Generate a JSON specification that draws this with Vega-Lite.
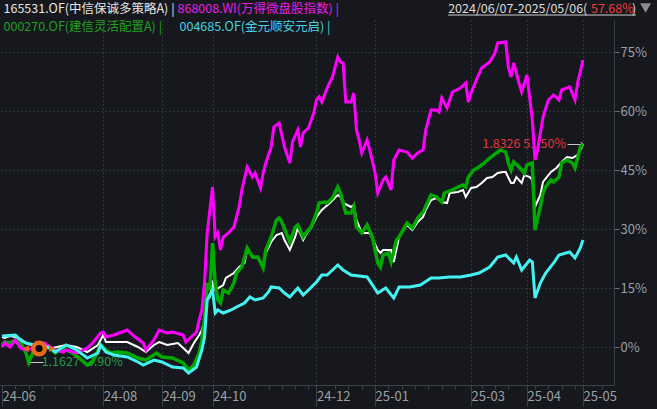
{
  "$schema": "https://vega.github.io/schema/vega-lite/v6.json",
  "width": 614,
  "height": 365,
  "autosize": "none",
  "padding": {"left": 0, "top": 20, "right": 43, "bottom": 24},
  "background": "#16181d",
  "config": {
    "view": {"stroke": null},
    "font": "Noto Sans CJK SC",
    "axis": {"labelFont": "Noto Sans CJK SC"},
    "legend": {"labelFont": "Noto Sans CJK SC"}
  },
  "datasets": {
    "series": [
      {"s":"165531","d":0,"v":2.54},{"s":"165531","d":1,"v":2.29},{"s":"165531","d":3,"v":2.80},{"s":"165531","d":5,"v":2.54},{"s":"165531","d":7,"v":2.03},{"s":"165531","d":9,"v":1.02},{"s":"165531","d":12,"v":0.25},{"s":"165531","d":16,"v":0},{"s":"165531","d":19,"v":-0.25},{"s":"165531","d":24,"v":0.51},{"s":"165531","d":28,"v":0},{"s":"165531","d":32,"v":-1.27},{"s":"165531","d":36,"v":0.51},{"s":"165531","d":38,"v":3.05},{"s":"165531","d":39,"v":1.27},{"s":"165531","d":42,"v":1.27},{"s":"165531","d":47,"v":1.27},{"s":"165531","d":51,"v":0},{"s":"165531","d":54,"v":-1.27},{"s":"165531","d":57,"v":0.51},{"s":"165531","d":59,"v":1.27},{"s":"165531","d":62,"v":0.51},{"s":"165531","d":66,"v":1.02},{"s":"165531","d":68,"v":-0.25},{"s":"165531","d":70,"v":-1.53},{"s":"165531","d":72,"v":1.02},{"s":"165531","d":74,"v":3.05},{"s":"165531","d":75,"v":4.32},{"s":"165531","d":76,"v":6.86},{"s":"165531","d":77,"v":11.95},{"s":"165531","d":78,"v":12.71},{"s":"165531","d":79,"v":16.27},{"s":"165531","d":80,"v":14.49},{"s":"165531","d":83,"v":15.76},{"s":"165531","d":84,"v":17.54},{"s":"165531","d":87,"v":18.82},{"s":"165531","d":89,"v":20.34},{"s":"165531","d":91,"v":21.36},{"s":"165531","d":92,"v":24.66},{"s":"165531","d":94,"v":22.88},{"s":"165531","d":96,"v":22.63},{"s":"165531","d":98,"v":20.85},{"s":"165531","d":99,"v":23.90},{"s":"165531","d":101,"v":26.70},{"s":"165531","d":103,"v":28.48},{"s":"165531","d":105,"v":28.99},{"s":"165531","d":106,"v":27.21},{"s":"165531","d":108,"v":24.66},{"s":"165531","d":110,"v":27.97},{"s":"165531","d":111,"v":30.26},{"s":"165531","d":113,"v":27.21},{"s":"165531","d":114,"v":28.48},{"s":"165531","d":116,"v":30.26},{"s":"165531","d":118,"v":33.05},{"s":"165531","d":120,"v":34.83},{"s":"165531","d":123,"v":36.61},{"s":"165531","d":126,"v":38.65},{"s":"165531","d":127,"v":38.14},{"s":"165531","d":128,"v":36.61},{"s":"165531","d":131,"v":35.60},{"s":"165531","d":132,"v":36.10},{"s":"165531","d":133,"v":32.29},{"s":"165531","d":135,"v":28.99},{"s":"165531","d":138,"v":28.99},{"s":"165531","d":141,"v":24.66},{"s":"165531","d":142,"v":23.90},{"s":"165531","d":143,"v":24.66},{"s":"165531","d":146,"v":24.66},{"s":"165531","d":147,"v":21.61},{"s":"165531","d":149,"v":27.97},{"s":"165531","d":150,"v":28.99},{"s":"165531","d":152,"v":31.02},{"s":"165531","d":154,"v":29.75},{"s":"165531","d":156,"v":31.78},{"s":"165531","d":158,"v":33.05},{"s":"165531","d":159,"v":34.83},{"s":"165531","d":161,"v":37.38},{"s":"165531","d":163,"v":37.88},{"s":"165531","d":165,"v":36.87},{"s":"165531","d":167,"v":36.61},{"s":"165531","d":168,"v":39.16},{"s":"165531","d":171,"v":39.41},{"s":"165531","d":173,"v":39.92},{"s":"165531","d":174,"v":38.14},{"s":"165531","d":176,"v":40.43},{"s":"165531","d":178,"v":40.68},{"s":"165531","d":180,"v":41.70},{"s":"165531","d":182,"v":42.97},{"s":"165531","d":184,"v":43.22},{"s":"165531","d":186,"v":44.24},{"s":"165531","d":188,"v":44.50},{"s":"165531","d":189,"v":44.50},{"s":"165531","d":191,"v":41.70},{"s":"165531","d":192,"v":41.70},{"s":"165531","d":193,"v":43.22},{"s":"165531","d":195,"v":41.70},{"s":"165531","d":196,"v":43.73},{"s":"165531","d":198,"v":43.22},{"s":"165531","d":199,"v":42.46},{"s":"165531","d":200,"v":35.60},{"s":"165531","d":202,"v":38.65},{"s":"165531","d":203,"v":41.95},{"s":"165531","d":206,"v":44.50},{"s":"165531","d":208,"v":45.51},{"s":"165531","d":210,"v":47.04},{"s":"165531","d":212,"v":48.31},{"s":"165531","d":214,"v":48.05},{"s":"165531","d":216,"v":48.82},{"s":"165531","d":218,"v":51.36},
      {"s":"000270","d":0,"v":0.51},{"s":"000270","d":1,"v":1.27},{"s":"000270","d":3,"v":1.02},{"s":"000270","d":5,"v":1.78},{"s":"000270","d":7,"v":1.02},{"s":"000270","d":9,"v":-1.53},{"s":"000270","d":10,"v":-3.90},{"s":"000270","d":12,"v":-0.76},{"s":"000270","d":15,"v":-0.25},{"s":"000270","d":18,"v":-0.25},{"s":"000270","d":20,"v":-1.53},{"s":"000270","d":23,"v":-0.25},{"s":"000270","d":24,"v":-0.76},{"s":"000270","d":26,"v":-1.27},{"s":"000270","d":29,"v":-2.80},{"s":"000270","d":32,"v":-4.58},{"s":"000270","d":34,"v":-3.81},{"s":"000270","d":37,"v":0.51},{"s":"000270","d":39,"v":-0.76},{"s":"000270","d":41,"v":-1.53},{"s":"000270","d":43,"v":-1.27},{"s":"000270","d":47,"v":-1.53},{"s":"000270","d":51,"v":-2.80},{"s":"000270","d":54,"v":-3.31},{"s":"000270","d":58,"v":-1.53},{"s":"000270","d":60,"v":-2.54},{"s":"000270","d":64,"v":-2.80},{"s":"000270","d":68,"v":-4.07},{"s":"000270","d":70,"v":-5.85},{"s":"000270","d":72,"v":-4.58},{"s":"000270","d":74,"v":-1.53},{"s":"000270","d":75,"v":1.78},{"s":"000270","d":76,"v":7.37},{"s":"000270","d":77,"v":16.27},{"s":"000270","d":78,"v":14.49},{"s":"000270","d":79,"v":26.44},{"s":"000270","d":80,"v":16.27},{"s":"000270","d":81,"v":11.95},{"s":"000270","d":82,"v":11.19},{"s":"000270","d":83,"v":14.49},{"s":"000270","d":85,"v":13.73},{"s":"000270","d":87,"v":16.27},{"s":"000270","d":88,"v":18.82},{"s":"000270","d":90,"v":20.34},{"s":"000270","d":92,"v":25.17},{"s":"000270","d":94,"v":22.88},{"s":"000270","d":96,"v":22.88},{"s":"000270","d":98,"v":20.09},{"s":"000270","d":99,"v":24.66},{"s":"000270","d":101,"v":27.97},{"s":"000270","d":103,"v":32.29},{"s":"000270","d":104,"v":32.80},{"s":"000270","d":105,"v":31.78},{"s":"000270","d":108,"v":26.70},{"s":"000270","d":110,"v":30.51},{"s":"000270","d":111,"v":31.02},{"s":"000270","d":113,"v":27.97},{"s":"000270","d":114,"v":28.99},{"s":"000270","d":116,"v":30.51},{"s":"000270","d":118,"v":34.07},{"s":"000270","d":119,"v":36.61},{"s":"000270","d":121,"v":36.87},{"s":"000270","d":122,"v":36.61},{"s":"000270","d":124,"v":37.88},{"s":"000270","d":126,"v":40.68},{"s":"000270","d":127,"v":39.16},{"s":"000270","d":129,"v":34.07},{"s":"000270","d":131,"v":34.07},{"s":"000270","d":132,"v":35.60},{"s":"000270","d":133,"v":30.51},{"s":"000270","d":135,"v":28.99},{"s":"000270","d":137,"v":31.02},{"s":"000270","d":139,"v":27.97},{"s":"000270","d":141,"v":21.36},{"s":"000270","d":142,"v":20.34},{"s":"000270","d":143,"v":23.39},{"s":"000270","d":145,"v":23.90},{"s":"000270","d":146,"v":21.61},{"s":"000270","d":148,"v":27.21},{"s":"000270","d":149,"v":27.97},{"s":"000270","d":152,"v":31.53},{"s":"000270","d":154,"v":30.26},{"s":"000270","d":156,"v":32.80},{"s":"000270","d":158,"v":34.33},{"s":"000270","d":161,"v":38.65},{"s":"000270","d":163,"v":38.14},{"s":"000270","d":165,"v":36.87},{"s":"000270","d":166,"v":39.16},{"s":"000270","d":169,"v":39.92},{"s":"000270","d":171,"v":40.68},{"s":"000270","d":173,"v":41.19},{"s":"000270","d":174,"v":40.68},{"s":"000270","d":175,"v":43.22},{"s":"000270","d":177,"v":45.00},{"s":"000270","d":179,"v":45.77},{"s":"000270","d":181,"v":46.78},{"s":"000270","d":183,"v":48.05},{"s":"000270","d":186,"v":49.58},{"s":"000270","d":187,"v":50.09},{"s":"000270","d":189,"v":49.58},{"s":"000270","d":190,"v":46.78},{"s":"000270","d":191,"v":45.00},{"s":"000270","d":192,"v":47.04},{"s":"000270","d":194,"v":45.77},{"s":"000270","d":196,"v":44.24},{"s":"000270","d":197,"v":46.28},{"s":"000270","d":199,"v":46.78},{"s":"000270","d":200,"v":29.75},{"s":"000270","d":202,"v":35.60},{"s":"000270","d":203,"v":39.16},{"s":"000270","d":204,"v":40.68},{"s":"000270","d":206,"v":42.46},{"s":"000270","d":207,"v":41.95},{"s":"000270","d":209,"v":43.22},{"s":"000270","d":210,"v":46.78},{"s":"000270","d":212,"v":47.55},{"s":"000270","d":214,"v":46.78},{"s":"000270","d":215,"v":45.51},{"s":"000270","d":216,"v":48.05},{"s":"000270","d":217,"v":50.85},{"s":"000270","d":218,"v":51.50},
      {"s":"868008","d":0,"v":0},{"s":"868008","d":1,"v":1.02},{"s":"868008","d":3,"v":0},{"s":"868008","d":5,"v":1.78},{"s":"868008","d":7,"v":-0.25},{"s":"868008","d":9,"v":-0.76},{"s":"868008","d":12,"v":-0.25},{"s":"868008","d":14,"v":0.51},{"s":"868008","d":16,"v":1.02},{"s":"868008","d":18,"v":0},{"s":"868008","d":20,"v":-0.76},{"s":"868008","d":23,"v":-1.27},{"s":"868008","d":24,"v":-0.76},{"s":"868008","d":28,"v":-1.53},{"s":"868008","d":32,"v":-0.25},{"s":"868008","d":34,"v":1.02},{"s":"868008","d":37,"v":3.56},{"s":"868008","d":38,"v":3.81},{"s":"868008","d":39,"v":2.54},{"s":"868008","d":42,"v":3.05},{"s":"868008","d":44,"v":3.56},{"s":"868008","d":47,"v":4.32},{"s":"868008","d":50,"v":2.54},{"s":"868008","d":53,"v":1.02},{"s":"868008","d":54,"v":-0.76},{"s":"868008","d":57,"v":1.78},{"s":"868008","d":59,"v":4.32},{"s":"868008","d":62,"v":3.56},{"s":"868008","d":64,"v":3.81},{"s":"868008","d":68,"v":3.05},{"s":"868008","d":69,"v":1.27},{"s":"868008","d":71,"v":2.54},{"s":"868008","d":73,"v":3.81},{"s":"868008","d":74,"v":6.86},{"s":"868008","d":75,"v":9.41},{"s":"868008","d":76,"v":16.27},{"s":"868008","d":77,"v":28.99},{"s":"868008","d":78,"v":34.83},{"s":"868008","d":79,"v":40.68},{"s":"868008","d":80,"v":27.97},{"s":"868008","d":81,"v":28.99},{"s":"868008","d":82,"v":24.66},{"s":"868008","d":83,"v":27.97},{"s":"868008","d":85,"v":28.99},{"s":"868008","d":87,"v":30.51},{"s":"868008","d":89,"v":35.60},{"s":"868008","d":90,"v":39.92},{"s":"868008","d":92,"v":45.77},{"s":"868008","d":94,"v":43.22},{"s":"868008","d":95,"v":44.24},{"s":"868008","d":97,"v":40.43},{"s":"868008","d":98,"v":44.24},{"s":"868008","d":99,"v":46.78},{"s":"868008","d":101,"v":50.85},{"s":"868008","d":102,"v":55.94},{"s":"868008","d":104,"v":56.95},{"s":"868008","d":106,"v":50.85},{"s":"868008","d":108,"v":46.78},{"s":"868008","d":109,"v":52.12},{"s":"868008","d":111,"v":55.17},{"s":"868008","d":112,"v":50.85},{"s":"868008","d":113,"v":54.41},{"s":"868008","d":115,"v":55.68},{"s":"868008","d":117,"v":59.50},{"s":"868008","d":118,"v":62.80},{"s":"868008","d":119,"v":63.57},{"s":"868008","d":120,"v":62.29},{"s":"868008","d":122,"v":65.85},{"s":"868008","d":124,"v":68.65},{"s":"868008","d":126,"v":73.73},{"s":"868008","d":127,"v":72.46},{"s":"868008","d":128,"v":72.21},{"s":"868008","d":129,"v":62.29},{"s":"868008","d":131,"v":62.29},{"s":"868008","d":132,"v":64.58},{"s":"868008","d":133,"v":55.17},{"s":"868008","d":134,"v":52.63},{"s":"868008","d":135,"v":49.33},{"s":"868008","d":137,"v":52.63},{"s":"868008","d":138,"v":50.09},{"s":"868008","d":140,"v":44.24},{"s":"868008","d":141,"v":39.16},{"s":"868008","d":143,"v":42.46},{"s":"868008","d":144,"v":43.22},{"s":"868008","d":146,"v":39.92},{"s":"868008","d":147,"v":47.55},{"s":"868008","d":149,"v":50.09},{"s":"868008","d":152,"v":49.58},{"s":"868008","d":154,"v":48.05},{"s":"868008","d":156,"v":49.33},{"s":"868008","d":158,"v":50.09},{"s":"868008","d":159,"v":55.17},{"s":"868008","d":161,"v":60.26},{"s":"868008","d":163,"v":60.26},{"s":"868008","d":164,"v":59.75},{"s":"868008","d":165,"v":63.31},{"s":"868008","d":167,"v":60.77},{"s":"868008","d":169,"v":64.84},{"s":"868008","d":172,"v":65.85},{"s":"868008","d":174,"v":67.12},{"s":"868008","d":175,"v":62.29},{"s":"868008","d":176,"v":64.58},{"s":"868008","d":178,"v":67.89},{"s":"868008","d":180,"v":70.94},{"s":"868008","d":183,"v":72.46},{"s":"868008","d":185,"v":74.75},{"s":"868008","d":186,"v":77.30},{"s":"868008","d":189,"v":77.55},{"s":"868008","d":190,"v":71.19},{"s":"868008","d":191,"v":68.65},{"s":"868008","d":192,"v":72.21},{"s":"868008","d":194,"v":67.12},{"s":"868008","d":195,"v":64.84},{"s":"868008","d":197,"v":69.16},{"s":"868008","d":199,"v":57.72},{"s":"868008","d":200,"v":47.55},{"s":"868008","d":201,"v":50.09},{"s":"868008","d":203,"v":58.48},{"s":"868008","d":205,"v":62.80},{"s":"868008","d":207,"v":64.07},{"s":"868008","d":209,"v":62.80},{"s":"868008","d":210,"v":65.34},{"s":"868008","d":213,"v":66.11},{"s":"868008","d":215,"v":62.80},{"s":"868008","d":216,"v":67.12},{"s":"868008","d":218,"v":72.97},
      {"s":"004685","d":0,"v":2.80},{"s":"004685","d":5,"v":3.05},{"s":"004685","d":7,"v":1.78},{"s":"004685","d":9,"v":1.02},{"s":"004685","d":12,"v":0.51},{"s":"004685","d":16,"v":0.25},{"s":"004685","d":18,"v":-0.25},{"s":"004685","d":20,"v":-1.27},{"s":"004685","d":24,"v":0.51},{"s":"004685","d":28,"v":-0.76},{"s":"004685","d":32,"v":-2.80},{"s":"004685","d":36,"v":-1.53},{"s":"004685","d":37,"v":0.51},{"s":"004685","d":39,"v":-1.27},{"s":"004685","d":42,"v":-2.03},{"s":"004685","d":47,"v":-2.54},{"s":"004685","d":51,"v":-3.81},{"s":"004685","d":53,"v":-4.58},{"s":"004685","d":57,"v":-3.31},{"s":"004685","d":60,"v":-3.81},{"s":"004685","d":64,"v":-5.09},{"s":"004685","d":68,"v":-5.34},{"s":"004685","d":70,"v":-6.61},{"s":"004685","d":73,"v":-5.09},{"s":"004685","d":75,"v":-0.76},{"s":"004685","d":76,"v":2.54},{"s":"004685","d":77,"v":11.95},{"s":"004685","d":79,"v":14.49},{"s":"004685","d":80,"v":8.64},{"s":"004685","d":81,"v":9.41},{"s":"004685","d":83,"v":8.64},{"s":"004685","d":86,"v":9.41},{"s":"004685","d":88,"v":10.17},{"s":"004685","d":91,"v":11.19},{"s":"004685","d":93,"v":12.71},{"s":"004685","d":95,"v":11.95},{"s":"004685","d":98,"v":12.46},{"s":"004685","d":100,"v":13.98},{"s":"004685","d":101,"v":15.26},{"s":"004685","d":104,"v":15.00},{"s":"004685","d":106,"v":13.73},{"s":"004685","d":108,"v":12.71},{"s":"004685","d":111,"v":15.00},{"s":"004685","d":113,"v":13.22},{"s":"004685","d":115,"v":14.49},{"s":"004685","d":118,"v":16.53},{"s":"004685","d":120,"v":18.31},{"s":"004685","d":122,"v":18.31},{"s":"004685","d":126,"v":20.85},{"s":"004685","d":128,"v":19.58},{"s":"004685","d":131,"v":18.31},{"s":"004685","d":137,"v":17.80},{"s":"004685","d":141,"v":13.73},{"s":"004685","d":144,"v":15.00},{"s":"004685","d":147,"v":12.46},{"s":"004685","d":149,"v":15.26},{"s":"004685","d":153,"v":15.26},{"s":"004685","d":157,"v":15.76},{"s":"004685","d":161,"v":17.54},{"s":"004685","d":164,"v":17.54},{"s":"004685","d":168,"v":17.80},{"s":"004685","d":172,"v":17.80},{"s":"004685","d":176,"v":18.31},{"s":"004685","d":179,"v":18.82},{"s":"004685","d":183,"v":20.34},{"s":"004685","d":186,"v":22.88},{"s":"004685","d":189,"v":23.39},{"s":"004685","d":192,"v":21.36},{"s":"004685","d":193,"v":22.88},{"s":"004685","d":195,"v":19.58},{"s":"004685","d":198,"v":22.12},{"s":"004685","d":199,"v":21.61},{"s":"004685","d":200,"v":12.46},{"s":"004685","d":202,"v":16.27},{"s":"004685","d":204,"v":18.82},{"s":"004685","d":207,"v":21.36},{"s":"004685","d":209,"v":23.39},{"s":"004685","d":213,"v":24.15},{"s":"004685","d":215,"v":22.63},{"s":"004685","d":217,"v":25.17},{"s":"004685","d":218,"v":27.21}
    ]
  },
  "data": {"name": "series"},
  "encoding": {
    "x": {
      "field": "d",
      "type": "quantitative",
      "scale": {"domain": [-0.75, 229.64], "nice": false, "zero": false},
      "axis": {
        "orient": "bottom",
        "title": null,
        "values": [0,5,10,15,20,25,30,35,38,45,50,55,60,65,70,75,79,85,90,95,100,105,110,115,118,125,130,135,140,145,150,155,160,165,170,176,180,185,190,197,200,205,210,215,218,225],
        "labelExpr": "datum.value == 0 ? '24-06' : datum.value == 38 ? '24-08' : datum.value == 60 ? '24-09' : datum.value == 79 ? '24-10' : datum.value == 118 ? '24-12' : datum.value == 140 ? '25-01' : datum.value == 176 ? '25-03' : datum.value == 197 ? '25-04' : datum.value == 218 ? '25-05' : ''",
        "labelAlign": "left",
        "labelBaseline": "top",
        "labelPadding": -16,
        "labelFontSize": 13,
        "labelColor": "#9aa0a8",
        "labelOverlap": false,
        "labelFlush": false,
        "labelBound": false,
        "tickSize": {"condition": {"test": "indexof([0,38,60,79,118,140,176,197,218], datum.value) >= 0", "value": 21}, "value": 4},
        "tickColor": "#3c4047",
        "domainColor": "#3c4047",
        "grid": true,
        "gridColor": "#4a4f57",
        "gridDash": [1, 3],
        "gridOpacity": {"condition": {"test": "indexof([38,60,79,118,140,176,197,218], datum.value) >= 0", "value": 1}, "value": 0}
      }
    },
    "y": {
      "field": "v",
      "type": "quantitative",
      "scale": {"domain": [-9.661, 83.136], "nice": false, "zero": false},
      "axis": {
        "orient": "right",
        "title": null,
        "values": [0, 15, 30, 45, 60, 75],
        "labelExpr": "datum.value + '%'",
        "labelFontSize": 13,
        "labelColor": "#9aa0a8",
        "labelPadding": 1,
        "tickSize": 5,
        "tickColor": "#6a7078",
        "domainColor": "#3c4047",
        "grid": true,
        "gridColor": "#4a4f57",
        "gridDash": [1, 3]
      }
    }
  },
  "layer": [
    {
      "data": {"values": [{"d": 167.4, "v": 85.94, "t": "2024/06/07-2025/05/06("}]},
      "mark": {"type": "text", "align": "left", "baseline": "middle", "fontSize": 12.5, "color": "#dcdcdc"},
      "encoding": {"text": {"field": "t"}}
    },
    {
      "data": {"values": [{"d": 221.0, "v": 85.94, "t": "57.68%"}]},
      "mark": {"type": "text", "align": "left", "baseline": "middle", "fontSize": 12.5, "color": "#f03c3c"},
      "encoding": {"text": {"field": "t"}}
    },
    {
      "data": {"values": [{"d": 236.4, "v": 85.94, "t": ")"}]},
      "mark": {"type": "text", "align": "left", "baseline": "middle", "fontSize": 12.5, "color": "#dcdcdc"},
      "encoding": {"text": {"field": "t"}}
    },
    {
      "data": {"values": [{"d": 167.4, "d2": 237.9, "v": 84.4}]},
      "mark": {"type": "rule", "color": "#cfcfcf", "strokeWidth": 1},
      "encoding": {"x2": {"field": "d2"}}
    },
    {
      "data": {"values": [{"d": 241.5, "v": 86.2}]},
      "mark": {"type": "point", "shape": "triangle-down", "filled": true, "size": 120, "color": "#8c8c8c", "opacity": 1}
    },
    {
      "data": {"values": [{"d": 218, "v": 51.5, "t": "1.8326 51.50%"}]},
      "mark": {"type": "text", "align": "right", "baseline": "middle", "dx": -17, "fontSize": 12.5, "color": "#e0383c"},
      "encoding": {"text": {"field": "t"}}
    },
    {
      "data": {"values": [{"d": 218, "v": 51.5, "t": "⟶"}]},
      "mark": {"type": "text", "align": "right", "baseline": "middle", "dx": 1, "font": "DejaVu Sans", "fontSize": 12, "color": "#c8c8c8"},
      "encoding": {"text": {"field": "t"}}
    },
    {
      "data": {"values": [{"d": 10, "v": -3.9, "t": "⟵"}]},
      "mark": {"type": "text", "align": "left", "baseline": "middle", "dx": -2, "font": "DejaVu Sans", "fontSize": 12, "color": "#c8c8c8"},
      "encoding": {"text": {"field": "t"}}
    },
    {
      "data": {"values": [{"d": 10, "v": -3.9, "t": "1.1627 -3.90%"}]},
      "mark": {"type": "text", "align": "left", "baseline": "middle", "dx": 13, "fontSize": 12.5, "color": "#2a9a48"},
      "encoding": {"text": {"field": "t"}}
    },
    {
      "transform": [{"filter": "datum.s === '165531'"}],
      "mark": {"type": "line", "strokeWidth": 2},
      "encoding": {
        "stroke": {
          "field": "s", "type": "nominal",
          "scale": {"domain": ["165531", "868008"], "range": ["#ffffff", "#ff00ff"]},
          "legend": {
            "orient": "none", "legendX": 2, "legendY": -17.5, "direction": "horizontal",
            "title": null, "padding": 0, "offset": 0, "columnPadding": 1,
            "symbolSize": 0.01, "symbolStrokeWidth": 0.01, "symbolOpacity": 0, "labelOffset": -11,
            "labelFontSize": 12.5, "labelLimit": 0,
            "labelExpr": "datum.label == '165531' ? '165531.OF(中信保诚多策略A) |' : '868008.WI(万得微盘股指数) |'",
            "labelColor": {"expr": "datum.value == '868008' ? '#e81ee8' : '#e6e6e6'"}
          }
        }
      }
    },
    {
      "transform": [{"filter": "datum.s === '000270'"}],
      "mark": {"type": "line", "strokeWidth": 3.5},
      "encoding": {
        "color": {
          "field": "s", "type": "nominal",
          "scale": {"domain": ["000270", "004685"], "range": ["#00a800", "#44f2f2"]},
          "legend": {
            "orient": "none", "legendX": 2, "legendY": 0.5, "direction": "horizontal",
            "title": null, "padding": 0, "offset": 0, "columnPadding": 15,
            "symbolSize": 0.01, "symbolStrokeWidth": 0.01, "symbolOpacity": 0, "labelOffset": -11,
            "labelFontSize": 12.5, "labelLimit": 0,
            "labelExpr": "datum.label == '000270' ? '000270.OF(建信灵活配置A) |' : '004685.OF(金元顺安元启) |'",
            "labelColor": {"expr": "datum.value == '000270' ? '#1fa01f' : '#46d2e6'"}
          }
        }
      }
    },
    {
      "transform": [{"filter": "datum.s === '868008'"}],
      "mark": {"type": "line", "strokeWidth": 3},
      "encoding": {
        "stroke": {
          "field": "s", "type": "nominal",
          "scale": {"domain": ["165531", "868008"], "range": ["#ffffff", "#ff00ff"]}
        }
      }
    },
    {
      "transform": [{"filter": "datum.s === '004685'"}],
      "mark": {"type": "line", "strokeWidth": 3},
      "encoding": {
        "color": {
          "field": "s", "type": "nominal",
          "scale": {"domain": ["000270", "004685"], "range": ["#00a800", "#44f2f2"]}
        }
      }
    },
    {
      "data": {"values": [{"d": 9.0, "v": -0.4}]},
      "mark": {"type": "point", "shape": "triangle-left", "filled": true, "size": 50, "color": "#e8691e", "opacity": 1}
    },
    {
      "data": {"values": [{"d": 18.8, "v": -0.4}]},
      "mark": {"type": "point", "shape": "triangle-right", "filled": true, "size": 50, "color": "#e8691e", "opacity": 1}
    },
    {
      "data": {"values": [{"d": 13.9, "v": -0.4}]},
      "mark": {"type": "point", "shape": "circle", "filled": true, "size": 132, "fill": "#000000", "stroke": "#e8691e", "strokeWidth": 4.5, "opacity": 1}
    }
  ]
}
